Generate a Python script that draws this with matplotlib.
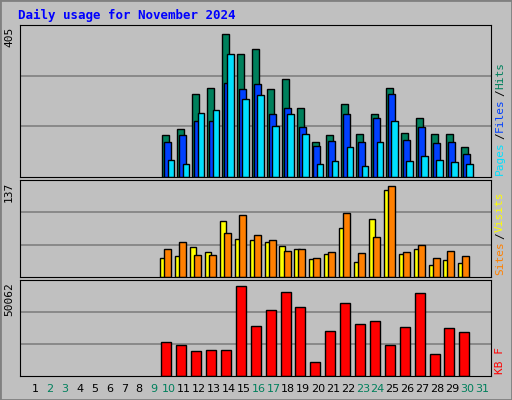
import matplotlib.pyplot as plt
from matplotlib.patches import Rectangle

days = list(range(9, 30))
hits = [115, 131, 227, 244, 393, 337, 351, 241, 270, 190, 96, 115, 201, 118, 174, 244, 120, 161, 118, 118, 83]
files = [96, 115, 153, 153, 257, 241, 254, 174, 190, 136, 86, 99, 174, 96, 161, 227, 102, 136, 94, 96, 64]
pages = [48, 37, 177, 185, 337, 214, 225, 139, 174, 118, 37, 43, 83, 29, 96, 153, 43, 59, 48, 40, 35]
sites = [28, 30, 43, 36, 80, 55, 54, 51, 44, 40, 26, 33, 71, 21, 84, 125, 33, 41, 18, 24, 20]
visits = [40, 51, 31, 31, 64, 90, 61, 53, 38, 41, 28, 36, 92, 34, 58, 131, 36, 46, 27, 37, 30]
kbytes = [17963, 16394, 13254, 13778, 13778, 47786, 26858, 35229, 44646, 36798, 7499, 23718,
          38891, 27904, 29474, 16394, 25811, 44123, 11685, 25288, 23195]
weekend = [2, 3, 9, 10, 16, 17, 23, 24, 30, 31]

W, H = 512, 400
BG = "#C0C0C0"
fig = plt.figure(figsize=(W / 100, H / 100), dpi=100, facecolor=BG)

# bevelled frame
fig.patches.append(Rectangle((0, 0), 1, 1, transform=fig.transFigure, fill=False,
                             edgecolor="#808080", linewidth=2))
fig.text(18 / W, 1 - 15 / H, "Daily usage for November 2024", color="#0000FF",
         fontsize=9, fontweight="bold", family="DejaVu Sans Mono", va="center")


def panel(y0, y1, vmax, label, series, legend):
    ax = fig.add_axes([20 / W, 1 - y1 / H, 471 / W, (y1 - y0) / H])
    ax.set_facecolor(BG)
    ax.set_xlim(0, 31.6)
    ax.set_ylim(0, vmax * 1.0)
    for g in (1 / 3, 2 / 3):
        ax.axhline(vmax * g, color="#808080", linewidth=1.2, zorder=1)
    for vals, color, off, wid in series:
        ax.bar([d + off for d in days], vals, width=wid, align="edge", color=color,
               edgecolor="black", linewidth=1, zorder=2)
    ax.set_xticks([])
    ax.set_yticks([])
    for s in ax.spines.values():
        s.set_color("black")
    fig.text(4 / W, 1 - (y0 + 2) / H, label, rotation=90, va="top", ha="left",
             fontsize=8, family="DejaVu Sans Mono")
    # vertical legend on the right, reading bottom to top
    y = y1 - 2
    for i, (txt, col) in enumerate(legend):
        t = fig.text(500 / W, 1 - y / H, txt, rotation=90, va="bottom", ha="center",
                     fontsize=8, family="DejaVu Sans Mono", color=col)
        y -= 7.2 * len(txt)
        if i < len(legend) - 1:
            fig.text(500 / W, 1 - y / H, "/", rotation=90, va="bottom", ha="center",
                     fontsize=8, family="DejaVu Sans Mono", color="black")
            y -= 7.2
    return ax


panel(25, 177, 405 * 1.03, "405",
      [(hits, "#00805C", 0.56, 0.47), (files, "#0040FF", 0.69, 0.47), (pages, "#00E0FF", 0.92, 0.44)],
      [("Pages", "#00E0FF"), ("Files", "#0040FF"), ("Hits", "#00805C")])
panel(180, 277, 137 * 1.02, "137",
      [(sites, "#FFFF00", 0.41, 0.4), (visits, "#FF8000", 0.68, 0.47)],
      [("Sites", "#FF8000"), ("Visits", "#FFFF00")])
panel(280, 376, 50062 * 1.02, "50062",
      [(kbytes, "#FF0000", 0.48, 0.67)],
      [("KB F", "#FF0000")])

for d in range(1, 32):
    fig.text((35 + (d - 1) * 14.9) / W, 1 - 389 / H, str(d), ha="center", va="center",
             fontsize=8, color="#00805C" if d in weekend else "black")

fig.savefig("out.png", dpi=100, facecolor=BG)
